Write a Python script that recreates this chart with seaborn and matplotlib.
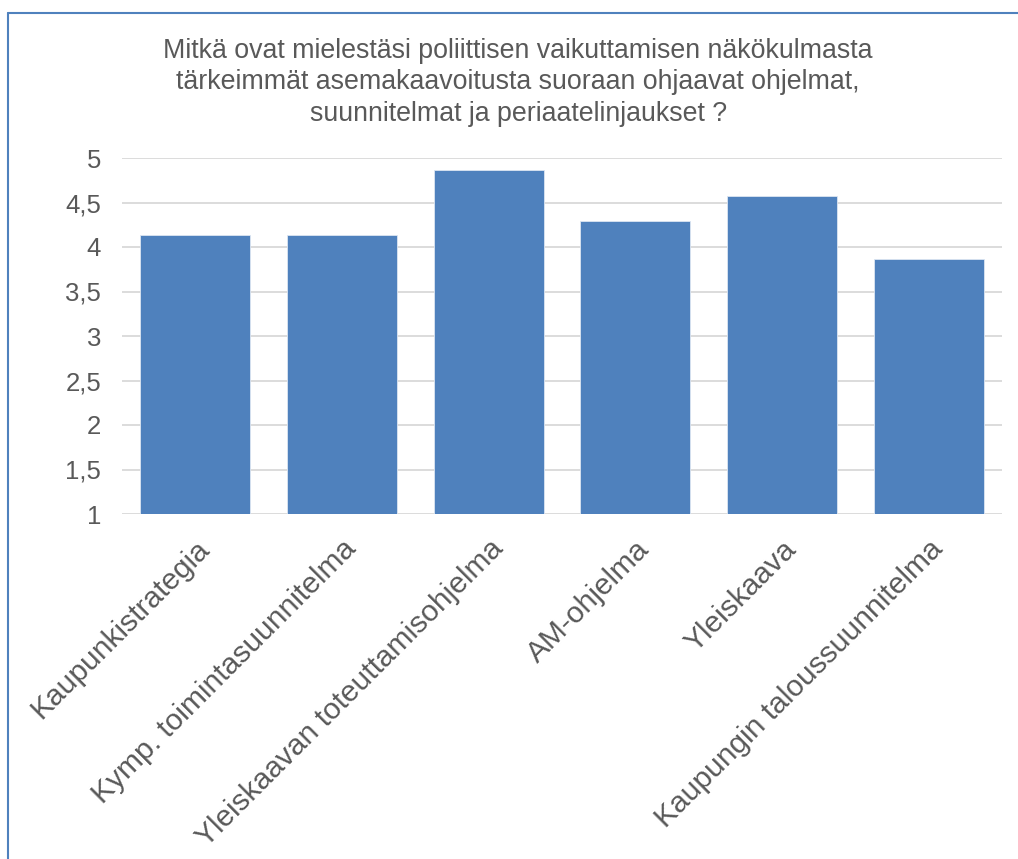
import matplotlib
matplotlib.use("Agg")
import matplotlib.pyplot as plt
import seaborn as sns
import pandas as pd
from matplotlib.lines import Line2D
from matplotlib.ticker import FuncFormatter

categories = ["Kaupunkistrategia", "Kymp. toimintasuunnitelma",
              "Yleiskaavan toteuttamisohjelma", "AM-ohjelma",
              "Yleiskaava", "Kaupungin taloussuunnitelma"]
values = [4.14, 4.14, 4.86, 4.29, 4.57, 3.86]
yticks = [1, 1.5, 2, 2.5, 3, 3.5, 4, 4.5, 5]
title = ("Mitkä ovat mielestäsi poliittisen vaikuttamisen näkökulmasta\n"
         "tärkeimmät asemakaavoitusta suoraan ohjaavat ohjelmat,\n"
         "suunnitelmat ja periaatelinjaukset ?")

sns.set_theme(style="white")
plt.rcParams['font.family'] = ['Liberation Sans', 'DejaVu Sans']

df = pd.DataFrame({"cat": categories, "val": values})

fig = plt.figure(figsize=(10.18, 8.59), dpi=100)
ax = fig.add_axes([122/1018, 1-514/859, 880/1018, (514-158)/859])

sns.barplot(data=df, x="cat", y="val", color="#4F81BD", saturation=1,
            width=0.75, edgecolor="#DCE6F2", linewidth=0.6, ax=ax, zorder=3)

ax.set_ylim(1, 5)
ax.set_xlim(-0.5, len(categories) - 0.5)
ax.set_yticks(yticks)
ax.yaxis.set_major_formatter(FuncFormatter(lambda v, p: f"{v:g}".replace(".", ",")))
ax.grid(axis="y", color="#D9D9D9", linewidth=1.3, zorder=0)
ax.grid(axis="x", visible=False)
for s in ax.spines.values():
    s.set_visible(False)
ax.set_xlabel("")
ax.set_ylabel("")
ax.tick_params(axis="y", length=0, pad=15, labelsize=18.5, labelcolor="#595959")
ax.tick_params(axis="x", length=0, pad=15, labelsize=21.5, labelcolor="#595959")
ax.set_xticks(range(len(categories)))
ax.set_xticklabels(categories, rotation=45, ha="right", rotation_mode="anchor")

fig.text(0.509, 1-38/859, title, ha="center", va="top", fontsize=19.3,
         color="#595959", linespacing=1.27)

fig.add_artist(Line2D([8/1018, 1.0], [1-13/859, 1-13/859], color="#4F81BD", linewidth=1.5))
fig.add_artist(Line2D([8/1018, 8/1018], [0, 1-13/859], color="#4F81BD", linewidth=1.5))

fig.savefig("out.png", dpi=100)
